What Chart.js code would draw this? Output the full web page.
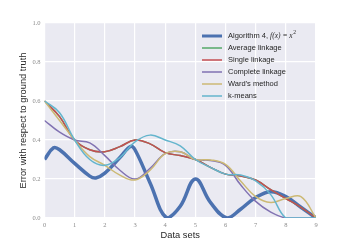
<!DOCTYPE html>
<html>
<head>
<meta charset="utf-8">
<script src="https://cdn.jsdelivr.net/npm/chart.js@4.4.0/dist/chart.umd.min.js"></script>
<style>
  html, body { margin: 0; padding: 0; background: #ffffff; }
  #wrap { width: 352px; height: 242px; }
</style>
</head>
<body>
<div id="wrap"><canvas id="chart" width="352" height="242"></canvas></div>
<script>
// Sample positions (data sets)
const xs = [0, 0.5, 1, 1.5, 2, 2.5, 3, 3.5, 4, 4.5, 5, 5.5, 6, 6.5, 7, 7.5, 8, 8.5, 9];

// Algorithm 4 has sharper bumps, so it gets its own sample positions
const algoX = [0, 0.3, 0.5, 1, 1.5, 1.7, 2, 2.5, 2.85, 3, 3.5, 4.05, 4.5, 5, 5.5, 6.05, 6.5, 7, 7.5, 8, 8.5, 9];
const algoY = [0.30, 0.36, 0.35, 0.28, 0.215, 0.205, 0.23, 0.31, 0.367, 0.35, 0.18, 0.0, 0.06, 0.20, 0.08, 0.0, 0.045, 0.105, 0.135, 0.11, 0.055, 0.0];

const averageLinkage = [0.60, 0.52, 0.40, 0.35, 0.34, 0.366, 0.40, 0.38, 0.335, 0.32, 0.30, 0.26, 0.225, 0.215, 0.195, 0.145, 0.10, 0.055, 0.0];
const singleLinkage  = [0.60, 0.52, 0.40, 0.35, 0.34, 0.366, 0.40, 0.38, 0.335, 0.32, 0.30, 0.26, 0.225, 0.215, 0.195, 0.145, 0.10, 0.055, 0.0];
const completeLinkage = [0.50, 0.44, 0.40, 0.385, 0.32, 0.245, 0.20, 0.255, 0.33, 0.34, 0.30, 0.295, 0.27, 0.17, 0.085, 0.03, 0.0, 0.0, 0.0];
const wardsMethod    = [0.60, 0.50, 0.40, 0.315, 0.27, 0.22, 0.195, 0.245, 0.33, 0.34, 0.30, 0.298, 0.275, 0.19, 0.11, 0.08, 0.10, 0.11, 0.0];
const kMeans         = [0.60, 0.54, 0.40, 0.30, 0.27, 0.31, 0.39, 0.425, 0.40, 0.37, 0.30, 0.26, 0.225, 0.22, 0.19, 0.12, 0.0, 0.0, 0.0];

const xTicks = [0, 1, 2, 3, 4, 5, 6, 7, 8, 9];
const yTicks = [0.0, 0.2, 0.4, 0.6, 0.8, 1.0];

const seriesNames = ['Algorithm 4', 'Average linkage', 'Single linkage', 'Complete linkage', "Ward's method", 'k-means'];
const seriesColors = ['#4C72B0', '#55A868', '#C44E52', '#8172B2', '#CCB974', '#64B5CD'];

function toPoints(xv, yv) {
    return xv.map((x, i) => ({ x: x, y: yv[i] }));
}

const seriesData = [
    toPoints(algoX, algoY),
    toPoints(xs, averageLinkage),
    toPoints(xs, singleLinkage),
    toPoints(xs, completeLinkage),
    toPoints(xs, wardsMethod),
    toPoints(xs, kMeans)
];

// Grey plot background like seaborn darkgrid
const plotBackground = {
    id: 'plotBackground',
    beforeDraw(chart) {
        const { ctx, chartArea: a } = chart;
        ctx.save();
        ctx.fillStyle = '#EAEAF2';
        ctx.fillRect(a.left, a.top, a.right - a.left, a.bottom - a.top);
        ctx.restore();
    }
};

// Axis labels and the in-plot legend
const labelsAndLegend = {
    id: 'labelsAndLegend',
    afterDraw(chart) {
        const { ctx, chartArea: a } = chart;
        ctx.save();
        ctx.fillStyle = '#262626';
        ctx.font = '9.3px "Liberation Sans"';
        ctx.textAlign = 'center';
        ctx.textBaseline = 'middle';
        ctx.fillText('Data sets', (a.left + a.right) / 2, 235);
        ctx.save();
        ctx.translate(23, (a.top + a.bottom) / 2);
        ctx.rotate(-Math.PI / 2);
        ctx.fillText('Error with respect to ground truth', 0, 0);
        ctx.restore();

        // legend rows
        const rowY = [36, 48, 60, 72, 84, 96];
        chart.data.datasets.forEach((ds, i) => {
            const y = rowY[i];
            ctx.strokeStyle = ds.borderColor;
            ctx.lineWidth = i === 0 ? 3 : 1.5;
            ctx.beginPath();
            ctx.moveTo(202, y);
            ctx.lineTo(222, y);
            ctx.stroke();
            ctx.textAlign = 'left';
            ctx.fillStyle = '#262626';
            ctx.font = '7.5px "Liberation Sans"';
            let x = 228;
            if (i === 0) {
                const head = ds.label + ', ';
                ctx.fillText(head, x, y);
                x += ctx.measureText(head).width;
                ctx.font = 'italic 7.5px "Liberation Serif"';
                const f = 'f(x) = x';
                ctx.fillText(f, x, y);
                x += ctx.measureText(f).width;
                ctx.font = '5.5px "Liberation Serif"';
                ctx.fillText('2', x + 0.5, y - 3);
            } else {
                ctx.fillText(ds.label, x, y);
            }
        });
        ctx.restore();
    }
};

const ctx = document.getElementById('chart').getContext('2d');
new Chart(ctx, {
    type: 'line',
    data: {
        datasets: seriesNames.map((name, i) => ({
            label: name,
            data: seriesData[i],
            borderColor: seriesColors[i],
            backgroundColor: seriesColors[i],
            borderWidth: i === 0 ? 3.5 : 1.5,
            pointRadius: 0,
            tension: 0.4,
            fill: false,
            order: seriesNames.length - i
        }))
    },
    options: {
        responsive: false,
        animation: false,
        layout: { padding: { left: 0, top: 23, right: 36, bottom: 0 } },
        plugins: {
            legend: { display: false },
            tooltip: { enabled: false }
        },
        scales: {
            x: {
                type: 'linear',
                min: 0,
                max: 9,
                afterFit: (scale) => { scale.height = 24; },
                afterBuildTicks: (scale) => { scale.ticks = xTicks.map(v => ({ value: v })); },
                grid: { color: '#ffffff', lineWidth: 1.2, drawTicks: false },
                border: { display: false },
                ticks: {
                    padding: 3,
                    color: '#8c8c8c',
                    font: { family: 'Liberation Serif', size: 6.5 },
                    maxRotation: 0,
                    callback: (v) => String(v)
                }
            },
            y: {
                type: 'linear',
                min: 0,
                max: 1,
                afterFit: (scale) => { scale.width = 44.5; },
                afterBuildTicks: (scale) => { scale.ticks = yTicks.map(v => ({ value: v })); },
                grid: { color: '#ffffff', lineWidth: 1.2, drawTicks: false },
                border: { display: false },
                ticks: {
                    padding: 4,
                    color: '#8c8c8c',
                    font: { family: 'Liberation Serif', size: 6.5 },
                    callback: (v) => Number(v).toFixed(1)
                }
            }
        }
    },
    plugins: [plotBackground, labelsAndLegend]
});
</script>
</body>
</html>
